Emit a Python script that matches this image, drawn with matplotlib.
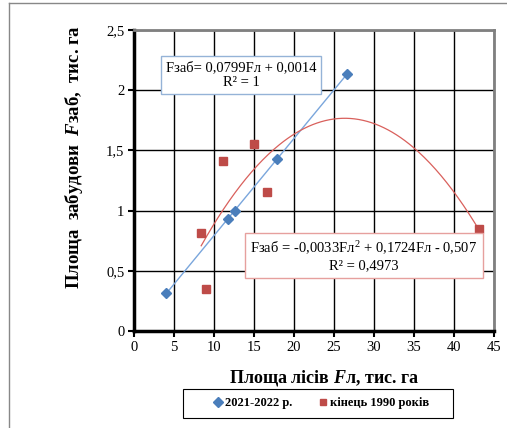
import numpy as np
import matplotlib.pyplot as plt
from matplotlib.lines import Line2D
from matplotlib.patches import Rectangle

plt.rcParams['font.family'] = ['Liberation Serif', 'DejaVu Serif']
plt.rcParams['mathtext.fontset'] = 'custom'
plt.rcParams['mathtext.it'] = 'Liberation Serif:italic:bold'
plt.rcParams['mathtext.rm'] = 'Liberation Serif'

# дані
x_2021 = [4.0, 11.8, 12.6, 17.9, 26.6]
y_2021 = [0.315, 0.93, 1.0, 1.43, 2.135]
x_1990 = [8.4, 9.0, 11.1, 15.0, 16.6, 43.1]
y_1990 = [0.81, 0.35, 1.415, 1.55, 1.155, 0.85]

lbl_2021 = "2021-2022 р."
lbl_1990 = "кінець 1990 років"
eq_lin = "Fзаб= 0,0799Fл + 0,0014\nR² = 1"
eq_poly = "Fзаб = -0,0033Fл$^{2}$ + 0,1724Fл - 0,507\nR² = 0,4973"

xticks = np.arange(0, 46, 5)
yticks = [0, 0.5, 1, 1.5, 2, 2.5]
ytick_lbl = ["0", "0,5", "1", "1,5", "2", "2,5"]

blue = '#4a7ebb'
red = '#be4b48'
W, H = 507, 428

fig = plt.figure(figsize=(W / 100, H / 100), dpi=100)
ax = fig.add_axes([134/W, 1 - 331/H, 360/W, 301/H])

# лінії тренду
k1 = np.polyfit(x_2021, y_2021, 1)
xs1 = np.linspace(min(x_2021), max(x_2021), 50)
ax.plot(xs1, np.polyval(k1, xs1), color='#7aa6dc', lw=1, zorder=3)
k2 = np.polyfit(x_1990, y_1990, 2)
xs2 = np.linspace(min(x_1990), max(x_1990), 200)
ax.plot(xs2, np.polyval(k2, xs2), color='#d9605c', lw=0.9, zorder=3)

ax.plot(x_2021, y_2021, ls='none', marker='D', ms=5, color=blue, zorder=4)
ax.plot(x_1990, y_1990, ls='none', marker='s', ms=5.5, color=red, zorder=4)

ax.set_xlim(0, 45)
ax.set_ylim(0, 2.5)
ax.set_xticks(xticks)
ax.set_yticks(yticks)
ax.set_yticklabels(ytick_lbl)
ax.grid(True, color='black', lw=1)
ax.set_axisbelow(True)
ax.tick_params(labelsize=10.5, direction='out', length=4, width=1.5, pad=3)
for s in ['left', 'bottom']:
    ax.spines[s].set_linewidth(2.5)
for s in ['top', 'right']:
    ax.spines[s].set_linewidth(2)
    ax.spines[s].set_color('#808080')

ax.set_xlabel(r"Площа лісів $\mathit{F}$л, тис. га", fontsize=13, fontweight='bold')
ax.xaxis.set_label_coords(0.528, -0.124)
ax.set_ylabel(r"Площа  забудови  $\mathit{F}$заб,  тис. га", fontsize=13.5, fontweight='bold')
ax.yaxis.set_label_coords(-0.135, 0.578)

ax.text(13.4, 2.126, eq_lin, fontsize=10.5, ha='center', va='center', linespacing=1.25,
        bbox=dict(boxstyle='square,pad=0.32', fc='white', ec='#95b3d7', lw=1), zorder=5)
ax.text(28.75, 0.627, eq_poly, fontsize=10.5, ha='center', va='center', linespacing=1.2,
        bbox=dict(boxstyle='square,pad=0.4', fc='white', ec='#e6a09e', lw=1), zorder=5)

# легенда
fig.add_artist(Rectangle((183/W, 1 - 418/H), 270/W, 29/H, fill=False, ec='black', lw=0.8))
handles = [Line2D([], [], ls='none', marker='D', ms=5, color=blue),
           Line2D([], [], ls='none', marker='s', ms=5, color=red)]
fig.legend(handles, [lbl_2021, lbl_1990], loc='center', bbox_to_anchor=(321/W, 1 - 403/H),
           ncol=2, frameon=False, prop={'weight': 'bold', 'size': 9},
           handletextpad=0.2, columnspacing=2.0, handlelength=0.8)

# рамка області діаграми
fig.add_artist(Line2D([9/W, 9/W], [0, 1 - 3/H], color='#888888', lw=1))
fig.add_artist(Line2D([9/W, 1], [1 - 3/H, 1 - 3/H], color='#888888', lw=1))

fig.savefig('out.png', dpi=100)
